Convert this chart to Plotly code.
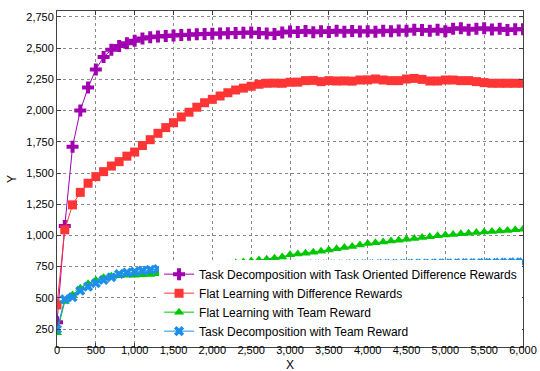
import plotly.graph_objects as go

x_vals = list(range(0, 6001, 100))

task_decomp_todr = [
    305, 1075, 1710, 2000, 2185, 2330, 2430, 2487, 2518, 2540,
    2560, 2577, 2587, 2594, 2598, 2602, 2606, 2608, 2612, 2614,
    2616, 2618, 2620, 2621, 2624, 2625, 2622, 2618, 2614, 2626,
    2634, 2630, 2638, 2628, 2636, 2630, 2640, 2632, 2638, 2634,
    2636, 2632, 2640, 2636, 2642, 2640, 2648, 2646, 2640, 2648,
    2636, 2656, 2660, 2648, 2656, 2660, 2650, 2656, 2646, 2652,
    2652,
]

flat_diff = [
    443, 1045, 1245, 1345, 1418, 1471, 1511, 1556, 1591, 1635,
    1668, 1720, 1767, 1818, 1864, 1903, 1949, 1987, 2027, 2063,
    2090, 2117, 2143, 2165, 2180, 2195, 2211, 2219, 2220, 2219,
    2227, 2228, 2240, 2242, 2232, 2240, 2237, 2238, 2236, 2245,
    2246, 2253, 2245, 2240, 2240, 2253, 2258, 2250, 2237, 2237,
    2245, 2245, 2240, 2240, 2232, 2224, 2219, 2219, 2219, 2219,
    2219,
]

flat_team = [
    220, 470, 523, 577, 612, 640, 660, 672, 676, 680,
    680, 684, 686, 692, 698, 704, 712, 720, 730, 744,
    755, 762, 770, 780, 788, 795, 803, 810, 818, 828,
    845, 852, 858, 866, 874, 884, 893, 903, 912, 924,
    936, 942, 948, 955, 962, 970, 976, 983, 990, 997,
    1004, 1008, 1013, 1018, 1023, 1028, 1032, 1036, 1040, 1045,
    1050,
]

task_decomp_team = [
    248, 489, 505, 557, 590, 617, 643, 665, 691, 702,
    710, 718, 724, 731, 737, 742, 746, 748, 750, 752,
    755, 757, 760, 762, 764, 765, 766, 767, 768, 768,
    765, 766, 767, 768, 768, 769, 768, 769, 770, 770,
    771, 771, 772, 772, 773, 773, 774, 775, 775, 776,
    776, 777, 778, 778, 779, 780, 781, 782, 783, 784,
    785,
]

series_names = [
    "Task Decomposition with Task Oriented Difference Rewards",
    "Flat Learning with Difference Rewards",
    "Flat Learning with Team Reward",
    "Task Decomposition with Team Reward",
]
series_values = [task_decomp_todr, flat_diff, flat_team, task_decomp_team]
series_colors = ["#a000b0", "#ff3535", "#00c800", "#1e8fe8"]
series_symbols = ["cross", "square", "triangle-up", "x"]
series_sizes = [10, 9, 9, 9]

x_ticks = list(range(0, 6001, 500))
y_ticks = list(range(250, 2751, 250))

fig = go.Figure()
for name, vals, col, sym, sz in zip(series_names, series_values, series_colors,
                                    series_symbols, series_sizes):
    fig.add_trace(go.Scatter(
        x=x_vals, y=vals, name=name, mode="lines+markers",
        line=dict(color=col, width=1),
        marker=dict(symbol=sym, size=sz, color=col, line=dict(width=0)),
    ))

font_family = "Liberation Sans, Arial, Helvetica, sans-serif"
axis_common = dict(
    showgrid=True, gridcolor="#8a8a8a", griddash="dot", gridwidth=1,
    showline=True, linecolor="#404040", linewidth=1, mirror="ticks",
    ticks="inside", ticklen=4, tickcolor="#404040",
    tickfont=dict(family=font_family, size=11, color="black"),
    zeroline=False, tickformat=",d", automargin=False,
)

fig.update_layout(
    template="none",
    width=540, height=371,
    margin=dict(l=57, r=17, t=11, b=24, autoexpand=False),
    paper_bgcolor="white", plot_bgcolor="white",
    font=dict(family=font_family, size=12, color="black"),
    xaxis=dict(range=[0, 6000], tickvals=x_ticks, ticklabelstandoff=-7,
               **axis_common),
    yaxis=dict(range=[106, 2798], tickvals=y_ticks, **axis_common),
    showlegend=True,
    legend=dict(
        x=0.998, xanchor="right", y=0.004, yanchor="bottom",
        bgcolor="white", borderwidth=0,
        font=dict(family=font_family, size=12, color="black"),
        itemwidth=30, tracegroupgap=0,
    ),
    annotations=[
        dict(text="X", xref="paper", yref="paper", x=0.5, y=-(365 - 347) / 336,
             xanchor="center", yanchor="middle", showarrow=False,
             font=dict(family=font_family, size=12, color="black")),
        dict(text="Y", xref="paper", yref="paper", x=-(57 - 12) / 466, y=0.5,
             xanchor="center", yanchor="middle", showarrow=False, textangle=-90,
             font=dict(family=font_family, size=12, color="black")),
    ],
)

fig.write_html(
    "out.html",
    config={"displayModeBar": False},
    post_script="document.body.style.margin='0';document.body.style.overflow='hidden';",
)
